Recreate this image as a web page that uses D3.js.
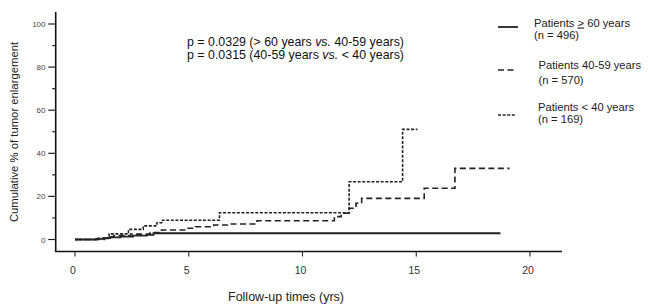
<!DOCTYPE html>
<meta charset="utf-8">
<head>
    <title>Cumulative tumor enlargement</title>
    <script src="https://cdn.jsdelivr.net/npm/d3@7"></script>
    <style>
        body { margin: 0; background: #fff; }
        svg { display: block; font-family: "Liberation Sans", Arial, sans-serif; }
    </style>
</head>
<body>
<div id="chart"></div>
<script>
// step curves (years, cumulative %)
var over60Times = [0, 0.95, 1.25, 1.55, 2.0, 2.55, 3.15, 3.45, 18.7];
var over60Values = [0, 0.3, 0.6, 1.0, 1.3, 1.8, 2.2, 2.9, 2.9];

var mid40Times = [0, 1.3, 1.5, 1.7, 2.45, 3.3, 3.8, 4.9, 5.3, 6.1, 6.7, 8.0, 11.4, 11.7, 12.05, 12.35, 12.6, 15.35, 16.7, 19.1];
var mid40Values = [0, 0.6, 1.3, 1.8, 2.5, 3.2, 4.4, 5.2, 5.9, 6.7, 7.2, 8.7, 10.6, 12.2, 14.5, 16.8, 19.1, 23.8, 33.0, 33.0];

var under40Times = [0, 1.0, 1.5, 2.35, 3.0, 3.6, 3.85, 6.35, 12.05, 14.4, 15.05];
var under40Values = [0, 0.5, 2.6, 4.7, 6.3, 7.8, 8.9, 12.4, 26.8, 51.1, 51.1];

var xTicks = [0, 5, 10, 15, 20];
var yMajorTicks = [0, 20, 40, 60, 80, 100];
var yMinorTicks = [10, 30, 50, 70, 90];

var w = 648, h = 307;
var svg = d3.select("#chart").append("svg")
    .attr("width", w).attr("height", h);

var x = d3.scaleLinear().domain([0, 20]).range([75, 530]);
var y = d3.scaleLinear().domain([0, 100]).range([239.5, 24]);

var axisY = 55.7, axisX = 251.5;

// axes lines
svg.append("line").attr("x1", axisY).attr("x2", axisY).attr("y1", 12).attr("y2", axisX)
    .attr("stroke", "#111").attr("stroke-width", 1.6);
svg.append("line").attr("x1", axisY - 0.8).attr("x2", 562).attr("y1", axisX).attr("y2", axisX)
    .attr("stroke", "#111").attr("stroke-width", 1.6);

// y ticks
svg.selectAll(".ymaj").data(yMajorTicks).enter().append("line")
    .attr("x1", axisY - 7.5).attr("x2", axisY)
    .attr("y1", d => y(d)).attr("y2", d => y(d))
    .attr("stroke", "#222").attr("stroke-width", 1.2);
svg.selectAll(".ymin").data(yMinorTicks).enter().append("line")
    .attr("x1", axisY - 3.5).attr("x2", axisY)
    .attr("y1", d => y(d)).attr("y2", d => y(d))
    .attr("stroke", "#222").attr("stroke-width", 1.2);
svg.selectAll(".ylab").data(yMajorTicks).enter().append("text")
    .attr("x", 45.5).attr("y", d => y(d) + 3)
    .attr("text-anchor", "end").attr("font-size", 8).attr("fill", "#444")
    .text(d => d);

// x ticks
svg.selectAll(".xt").data(xTicks).enter().append("line")
    .attr("x1", d => x(d)).attr("x2", d => x(d))
    .attr("y1", axisX).attr("y2", axisX + 5)
    .attr("stroke", "#222").attr("stroke-width", 1.1);
svg.selectAll(".xlab").data(xTicks).enter().append("text")
    .attr("x", d => x(d) - 2).attr("y", 274)
    .attr("text-anchor", "middle").attr("font-size", 10.5).attr("fill", "#333")
    .text(d => d);

// axis titles
svg.append("text").attr("x", 286).attr("y", 300.5)
    .attr("text-anchor", "middle").attr("font-size", 12.5).attr("fill", "#222")
    .text("Follow-up times (yrs)");
svg.append("text")
    .attr("transform", "translate(18,132) rotate(-90)")
    .attr("text-anchor", "middle").attr("font-size", 11.3).attr("fill", "#222")
    .text("Cumulative % of tumor enlargement");

// curves
var line = d3.line().x(d => x(d[0])).y(d => y(d[1])).curve(d3.curveStepAfter);
var series = [
    {t: over60Times, v: over60Values, dash: null, sw: 1.8},
    {t: mid40Times, v: mid40Values, dash: "6,3.5", sw: 1.6},
    {t: under40Times, v: under40Values, dash: "3,1.6", sw: 1.6}
];
series.forEach(function(s) {
    svg.append("path")
        .datum(d3.zip(s.t, s.v))
        .attr("d", line)
        .attr("fill", "none")
        .attr("stroke", "#222")
        .attr("stroke-width", s.sw)
        .attr("stroke-dasharray", s.dash);
});

// p-value annotation
var p1 = svg.append("text").attr("x", 187).attr("y", 46).attr("font-size", 12.4).attr("fill", "#111");
p1.append("tspan").text("p = 0.0329 (> 60 years ");
p1.append("tspan").attr("font-style", "italic").text("vs.");
p1.append("tspan").text(" 40-59 years)");
var p2 = svg.append("text").attr("x", 187).attr("y", 58.5).attr("font-size", 12.4).attr("fill", "#111");
p2.append("tspan").text("p = 0.0315 (40-59 years ");
p2.append("tspan").attr("font-style", "italic").text("vs.");
p2.append("tspan").text(" < 40 years)");

// legend
var legend = [
    {y: 27, dash: null, tx: 534, l1y: 26.5, l2y: 38.5, n: "(n = 496)"},
    {y: 70, dash: "6,3.5", tx: 538.5, l1y: 69, l2y: 83.5, n: "(n = 570)"},
    {y: 115, dash: "3,1.6", tx: 538, l1y: 110.5, l2y: 123, n: "(n = 169)"}
];
legend.forEach(function(d, i) {
    svg.append("line").attr("x1", 498).attr("x2", i == 0 ? 518 : 516)
        .attr("y1", d.y).attr("y2", d.y)
        .attr("stroke", "#222").attr("stroke-width", i == 0 ? 1.8 : 1.6)
        .attr("stroke-dasharray", d.dash);
    var t = svg.append("text").attr("x", d.tx).attr("y", d.l1y)
        .attr("font-size", 11.2).attr("fill", "#222");
    if (i == 0) {
        t.append("tspan").text("Patients ");
        t.append("tspan").attr("text-decoration", "underline").text(">");
        t.append("tspan").text(" 60 years");
    } else if (i == 1) {
        t.text("Patients 40-59 years");
    } else {
        t.text("Patients < 40 years");
    }
    svg.append("text").attr("x", d.tx).attr("y", d.l2y)
        .attr("font-size", 11.2).attr("fill", "#222").text(d.n);
});
</script>
</body>
